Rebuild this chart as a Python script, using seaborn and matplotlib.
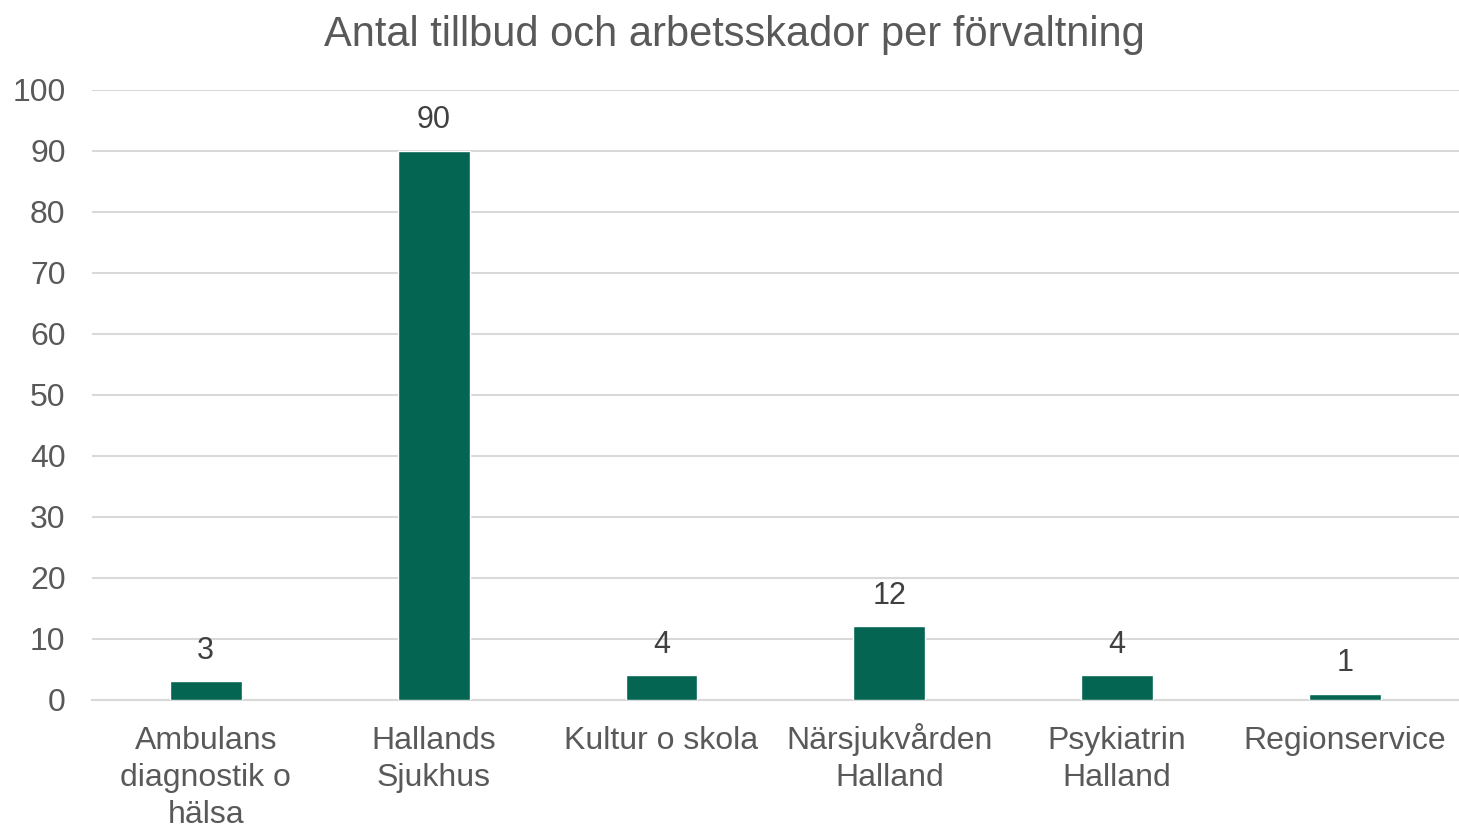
import matplotlib
matplotlib.use("Agg")
import matplotlib.pyplot as plt
import matplotlib.transforms as mtransforms
import seaborn as sns
import pandas as pd

categories = ["Ambulans\ndiagnostik o\nhälsa", "Hallands\nSjukhus", "Kultur o skola",
              "Närsjukvården\nHalland", "Psykiatrin\nHalland", "Regionservice"]
values = [3, 90, 4, 12, 4, 1]
y_ticks = list(range(0, 101, 10))

df = pd.DataFrame({"Forvaltning": categories, "Antal": values})

sns.set_theme(style="white")
plt.rcParams['font.family'] = ['Liberation Sans', 'DejaVu Sans']

fig = plt.figure(figsize=(14.59, 8.3), dpi=100)
ax = fig.add_axes([0.063, 0.157, 0.937, 0.735])

sns.barplot(data=df, x="Forvaltning", y="Antal", color="#046553", width=0.315,
            saturation=1, ax=ax, zorder=3)

# data labels above bars
for i, v in enumerate(values):
    ax.text(i, v + 2.5, str(v), ha="center", va="bottom", fontsize=22, color="#404040")

ax.set_ylim(0, 100)
ax.set_xlim(-0.5, 5.5)
ax.set_yticks(y_ticks)
ax.yaxis.grid(True, color="#D9D9D9", linewidth=1.5, zorder=0)
ax.set_axisbelow(True)
for s in ["top", "right", "left"]:
    ax.spines[s].set_visible(False)
ax.spines["bottom"].set_color("#D9D9D9")
ax.spines["bottom"].set_linewidth(1.5)
ax.tick_params(axis="both", length=0, labelsize=23, labelcolor="#595959")
ax.tick_params(axis="y", pad=19)
ax.tick_params(axis="x", pad=19)
for lbl in ax.get_xticklabels():
    lbl.set_linespacing(1.3)
    if "å" in lbl.get_text():
        # the ring on å pushes the block down, nudge it back up
        lbl.set_transform(lbl.get_transform() +
                          mtransforms.ScaledTranslation(0, 3 / 100, fig.dpi_scale_trans))
ax.set_xlabel("")
ax.set_ylabel("")

fig.suptitle("Antal tillbud och arbetsskador per förvaltning", x=0.503, y=0.982,
             fontsize=30, color="#595959")

fig.savefig("out.png", dpi=100)
